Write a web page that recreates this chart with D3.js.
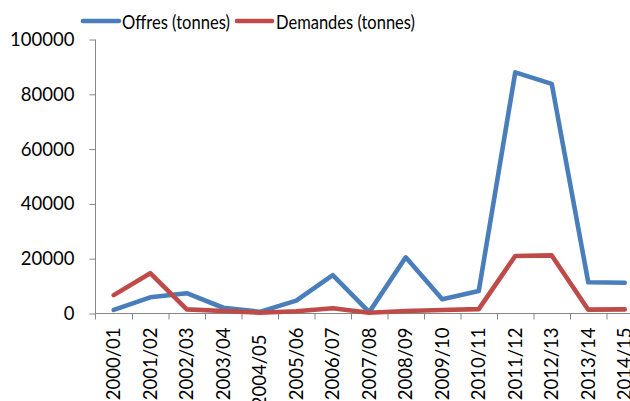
<!DOCTYPE html>
<html>
<head>
<meta charset="utf-8">
<script src="https://cdn.jsdelivr.net/npm/d3@7"></script>
<style>
  html, body { margin: 0; padding: 0; background: #fff; }
  svg { display: block; font-family: Lato, "Open Sans", sans-serif; }
</style>
</head>
<body>
<svg id="chart" width="630" height="401"></svg>
<script>
const categories = ["2000/01","2001/02","2002/03","2003/04","2004/05","2005/06","2006/07","2007/08","2008/09","2009/10","2010/11","2011/12","2012/13","2013/14","2014/15"];
const offres = [1300, 5900, 7400, 2100, 600, 4700, 14000, 500, 20500, 5200, 8200, 88000, 83800, 11400, 11200];
const demandes = [6700, 14700, 1500, 900, 300, 800, 1900, 300, 900, 1300, 1600, 21000, 21200, 1400, 1500];
const yTicks = [0, 20000, 40000, 60000, 80000, 100000];
const seriesNames = ["Offres (tonnes)", "Demandes (tonnes)"];
const seriesColors = ["#4A7EBB", "#BE4B48"];

(function () {
const svg = d3.select("#chart");
const mLeft = 95.5, mTop = 39.5, mBottom = 313.5, step = 36.5;
const mRight = mLeft + categories.length * step;

const x = d3.scaleBand().domain(categories).range([mLeft, mRight]).paddingInner(0).paddingOuter(0);
const xEdge = d3.scaleLinear().domain([0, categories.length]).range([mLeft, mRight]);
const y = d3.scaleLinear().domain([0, 100000]).range([mBottom, mTop]);

const axisColor = "#868686";
const fontFam = "Lato, 'Open Sans', sans-serif";

// Y axis
const gy = svg.append("g").attr("transform", `translate(${mLeft},0)`)
  .call(d3.axisLeft(y).tickValues(yTicks).tickSize(6).tickSizeOuter(0).tickPadding(15).tickFormat(d3.format("d")));
gy.select(".domain").remove();
gy.selectAll(".tick line").attr("stroke", axisColor);
gy.selectAll(".tick text").attr("font-size", 18.5).attr("fill", "#000").attr("font-family", fontFam);
svg.append("line").attr("x1", mLeft).attr("x2", mLeft).attr("y1", mTop).attr("y2", mBottom + 6)
  .attr("stroke", axisColor);

// X axis boundary ticks
const gxe = svg.append("g").attr("transform", `translate(0,${mBottom})`)
  .call(d3.axisBottom(xEdge).tickValues(d3.range(1, categories.length + 1)).tickSize(6).tickSizeOuter(0).tickFormat(""));
gxe.select(".domain").remove();
gxe.selectAll(".tick line").attr("stroke", axisColor);
svg.append("line").attr("x1", mLeft).attr("x2", mRight).attr("y1", mBottom).attr("y2", mBottom)
  .attr("stroke", axisColor);

// X labels
const gx = svg.append("g").attr("transform", `translate(0,${mBottom})`)
  .call(d3.axisBottom(x).tickSize(0).tickPadding(0));
gx.select(".domain").remove();
gx.selectAll(".tick text")
  .attr("font-size", 18.5).attr("fill", "#000").attr("font-family", fontFam)
  .attr("text-anchor", "end")
  .attr("transform", "rotate(-90)")
  .attr("x", (d, i) => i === 4 ? -21 : -14).attr("y", 0).attr("dy", "0.36em");

// Lines
const line = d3.line().x((d, i) => x(categories[i]) + x.bandwidth() / 2).y(d => y(d));
[offres, demandes].forEach((s, k) => {
  svg.append("path").datum(s).attr("d", line)
    .attr("fill", "none").attr("stroke", seriesColors[k]).attr("stroke-width", 4.6)
    .attr("stroke-linejoin", "round").attr("stroke-linecap", "round");
});

// Legend
const legendItems = [
  { x1: 83, x2: 119, tx: 122, tw: 108 },
  { x1: 237, x2: 272, tx: 276, tw: 139 }
];
legendItems.forEach((it, k) => {
  svg.append("line").attr("x1", it.x1).attr("x2", it.x2).attr("y1", 21).attr("y2", 21)
    .attr("stroke", seriesColors[k]).attr("stroke-width", 4.6).attr("stroke-linecap", "round");
  svg.append("text").attr("x", it.tx).attr("y", 28.5).attr("font-size", 19.5).attr("fill", "#000")
    .attr("font-family", fontFam)
    .attr("textLength", it.tw).attr("lengthAdjust", "spacingAndGlyphs")
    .text(seriesNames[k]);
});
})();
</script>
</body>
</html>
